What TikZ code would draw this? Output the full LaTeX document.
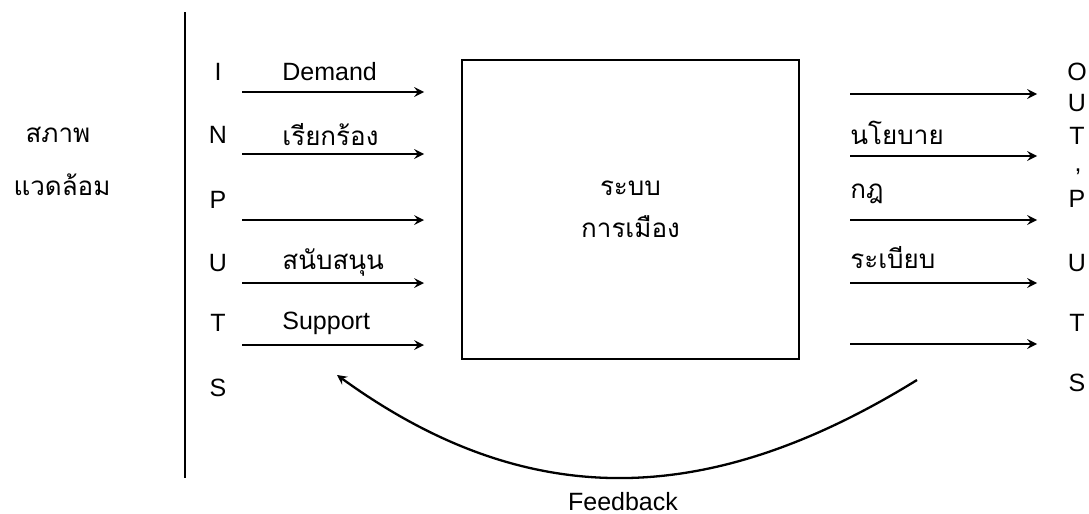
\documentclass[tikz,border=0pt]{standalone}
\usepackage{fontspec}
\setmainfont{Liberation Sans}
\newfontfamily\thaifont[Script=Thai]{Loma}
\usepackage{tikz}
\usetikzlibrary{arrows}
\usetikzlibrary{positioning, calc}

\begin{document}
\begin{tikzpicture}[x=0.5pt, y=-0.5pt,
      letter/.style={font=\fontsize{12.5}{14}\selectfont, inner sep=0pt},
      lbl/.style={font=\fontsize{12.5}{14}\selectfont, anchor=west, inner sep=0pt},
      thailbl/.style={font=\thaifont\fontsize{13}{15}\selectfont, anchor=west, inner sep=0pt},
      flow/.style={->, >=stealth, line width=1.15pt}]
      \useasboundingbox (0, 0) rectangle (1089, 514);

      % environment
      \node[font=\thaifont\fontsize{13}{15}\selectfont, inner sep=0pt] (env1) at (58, 135) {สภาพ};
      \node[font=\thaifont\fontsize{13}{15}\selectfont, inner sep=0pt] (env2) at (62, 185) {แวดล้อม};
      \coordinate (envtop) at (185, 12);
      \coordinate (envbot) at (185, 478);
      \draw[line width=1.1pt] (envtop) -- (envbot);

      % inputs
      \node[letter] (i1) at (218, 72) {I};
      \node[letter] (i2) at (218, 135) {N};
      \node[letter] (i3) at (218, 200) {P};
      \node[letter] (i4) at (218, 263) {U};
      \node[letter] (i5) at (218, 323) {T};
      \node[letter] (i6) at (218, 388) {S};

      \node[lbl] (demand) at (282, 72) {Demand};
      \node[thailbl] (call) at (282, 135) {เรียกร้อง};
      \node[thailbl] (back) at (282, 262) {สนับสนุน};
      \node[lbl] (support) at (282, 323) {Support};

      \coordinate (a1) at (242, 92);   \coordinate (b1) at (424, 92);
      \coordinate (a2) at (242, 154);  \coordinate (b2) at (424, 154);
      \coordinate (a3) at (242, 220);  \coordinate (b3) at (424, 220);
      \coordinate (a4) at (242, 283);  \coordinate (b4) at (424, 283);
      \coordinate (a5) at (242, 345);  \coordinate (b5) at (424, 345);
      \draw[flow] (a1) -- (b1);
      \draw[flow] (a2) -- (b2);
      \draw[flow] (a3) -- (b3);
      \draw[flow] (a4) -- (b4);
      \draw[flow] (a5) -- (b5);

      % political system
      \node[draw, line width=1.2pt, minimum width=168.5pt, minimum height=149.5pt,
            align=center, font=\thaifont\fontsize{13}{21}\selectfont] (sys) at (630.5, 209.5) {ระบบ\\การเมือง};

      % outputs
      \node[thailbl] (policy) at (850, 133) {นโยบาย};
      \node[thailbl] (law) at (850, 194) {กฎ};
      \node[thailbl] (rule) at (850, 258) {ระเบียบ};

      \coordinate (c1) at (850, 94);   \coordinate (d1) at (1037, 94);
      \coordinate (c2) at (850, 156);  \coordinate (d2) at (1037, 156);
      \coordinate (c3) at (850, 220);  \coordinate (d3) at (1037, 220);
      \coordinate (c4) at (850, 283);  \coordinate (d4) at (1037, 283);
      \coordinate (c5) at (850, 344);  \coordinate (d5) at (1037, 344);
      \draw[flow] (c1) -- (d1);
      \draw[flow] (c2) -- (d2);
      \draw[flow] (c3) -- (d3);
      \draw[flow] (c4) -- (d4);
      \draw[flow] (c5) -- (d5);

      \node[letter] (o1) at (1077, 72) {O};
      \node[letter] (o2) at (1077, 103) {U};
      \node[letter] (o3) at (1077, 136) {T};
      \node[letter] (o4) at (1078, 172) {,};
      \node[letter] (o5) at (1077, 199) {P};
      \node[letter] (o6) at (1077, 263) {U};
      \node[letter] (o7) at (1077, 323) {T};
      \node[letter] (o8) at (1077, 383) {S};

      % feedback
      \coordinate (fbs) at (917, 380);
      \coordinate (fbe) at (337, 375);
      \draw[flow] (fbs) .. controls (705, 511) and (525, 511) .. (fbe);
      \node[letter] (fb) at (623, 502) {Feedback};

    \end{tikzpicture}
\end{document}
